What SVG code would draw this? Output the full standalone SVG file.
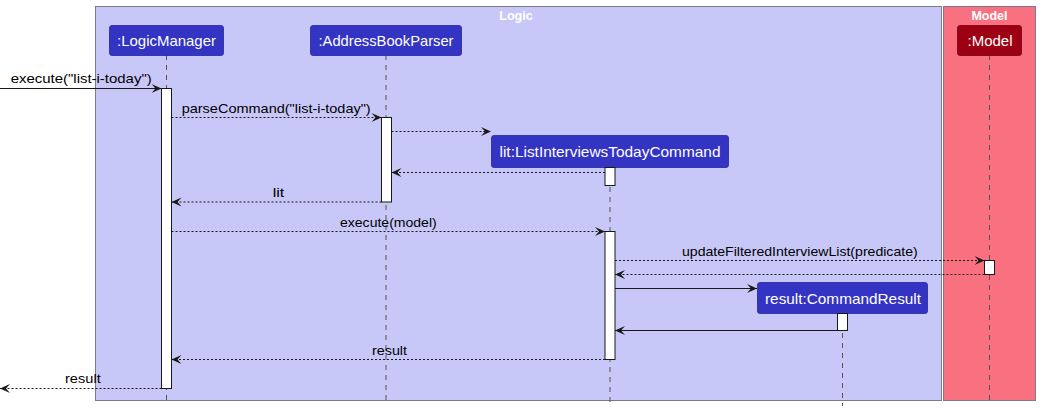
<svg xmlns="http://www.w3.org/2000/svg" width="1040" height="412" viewBox="0 0 1040 412">
<style>
.box{stroke:#7a7a8a;stroke-width:1}
.hdr{stroke:#26269a;stroke-width:0.8}
.pname{font-family:"Liberation Sans",Arial,sans-serif;font-size:15px;fill:#ffffff;text-anchor:middle}
.gname{font-family:"Liberation Sans",Arial,sans-serif;font-size:12.5px;font-weight:bold;fill:#ffffff;text-anchor:middle}
.lbl{font-family:"Liberation Sans",Arial,sans-serif;font-size:13.5px;fill:#000000}
.life{stroke:#555555;stroke-width:1;stroke-dasharray:5,5;fill:none}
.act{fill:#ffffff;stroke:#181818;stroke-width:1}
.msg{stroke:#181818;stroke-width:1;fill:none;marker-end:url(#ah)}
.dot{stroke-dasharray:2,2}
</style>
<defs>
<marker id="ah" markerUnits="userSpaceOnUse" markerWidth="12" markerHeight="10" refX="10" refY="4.5" orient="auto">
<path d="M0,0 L10,4.5 L0,9 L4,4.5 Z" fill="#181818"/>
</marker>
</defs>
<rect width="1040" height="412" fill="#ffffff"/>
<g id="group-logic">
<rect class="box" x="95.5" y="6.5" width="846" height="394" fill="#C8C8F8"/>
<text class="gname" x="516" y="20">Logic</text>
</g>
<g id="group-model">
<rect class="box" x="943.5" y="6.5" width="92" height="394" fill="#F97181"/>
<text class="gname" x="989.5" y="20">Model</text>
</g>
<g id="lifelines">
<line class="life" x1="166.5" y1="55" x2="166.5" y2="402"/>
<line class="life" x1="386" y1="55" x2="386" y2="402"/>
<line class="life" x1="610" y1="167" x2="610" y2="402"/>
<line class="life" x1="842.5" y1="313" x2="842.5" y2="406"/>
<line class="life" x1="989.5" y1="55" x2="989.5" y2="402"/>
</g>
<g id="node-logicmanager">
<rect class="hdr" x="109.5" y="25.5" width="114" height="30" rx="2.5" fill="#3333C4"/>
<text class="pname" x="166.5" y="46" textLength="99" lengthAdjust="spacingAndGlyphs">:LogicManager</text>
<rect class="act" x="161.5" y="88.5" width="10" height="300"/>
</g>
<g id="node-addressbookparser">
<rect class="hdr" x="310.5" y="25.5" width="151" height="30" rx="2.5" fill="#3333C4"/>
<text class="pname" x="386" y="46" textLength="135" lengthAdjust="spacingAndGlyphs">:AddressBookParser</text>
<rect class="act" x="381.5" y="117.5" width="10" height="84.5"/>
</g>
<g id="node-lit">
<rect class="hdr" x="491.5" y="135.5" width="237" height="32" rx="2.5" fill="#3333C4"/>
<text class="pname" x="610" y="157" textLength="221" lengthAdjust="spacingAndGlyphs">lit:ListInterviewsTodayCommand</text>
<rect class="act" x="605" y="167.5" width="10" height="18"/>
<rect class="act" x="605" y="231.5" width="10" height="128"/>
</g>
<g id="node-result">
<rect class="hdr" x="757.5" y="282.5" width="170" height="31" rx="2.5" fill="#3333C4"/>
<text class="pname" x="843" y="303.5" textLength="156" lengthAdjust="spacingAndGlyphs">result:CommandResult</text>
<rect class="act" x="837.5" y="313.5" width="10" height="17"/>
</g>
<g id="node-model">
<rect x="957.5" y="25.5" width="64" height="30" rx="2.5" fill="#9D0012" stroke="#7a0010" stroke-width="0.8"/>
<text class="pname" x="990" y="46" textLength="45" lengthAdjust="spacingAndGlyphs">:Model</text>
<rect class="act" x="984.5" y="260.5" width="10" height="14"/>
</g>
<g id="connectors">
<line class="msg" x1="0" y1="88.5" x2="161.5" y2="88.5"/>
<line class="msg dot" x1="171.5" y1="117.5" x2="381.5" y2="117.5"/>
<line class="msg dot" x1="391.5" y1="131.5" x2="491" y2="131.5"/>
<line class="msg dot" x1="605" y1="172.5" x2="391.5" y2="172.5"/>
<line class="msg dot" x1="381.5" y1="202" x2="171.5" y2="202"/>
<line class="msg dot" x1="171.5" y1="231.5" x2="605" y2="231.5"/>
<line class="msg dot" x1="615" y1="260.5" x2="984.5" y2="260.5"/>
<line class="msg dot" x1="984.5" y1="274.5" x2="615" y2="274.5"/>
<line class="msg" x1="615" y1="288.5" x2="757" y2="288.5"/>
<line class="msg" x1="837.5" y1="330.5" x2="615" y2="330.5"/>
<line class="msg dot" x1="605" y1="359.5" x2="171.5" y2="359.5"/>
<line class="msg dot" x1="161.5" y1="388.5" x2="0" y2="388.5"/>
</g>
<g id="labels">
<text class="lbl" x="10.7" y="82.5" textLength="141" lengthAdjust="spacingAndGlyphs">execute("list-i-today")</text>
<text class="lbl" x="181.7" y="112.5" textLength="189" lengthAdjust="spacingAndGlyphs">parseCommand("list-i-today")</text>
<text class="lbl" x="272.7" y="196.5" textLength="11.6" lengthAdjust="spacingAndGlyphs">lit</text>
<text class="lbl" x="340" y="226.5" textLength="96.7" lengthAdjust="spacingAndGlyphs">execute(model)</text>
<text class="lbl" x="682" y="255.5" textLength="235.7" lengthAdjust="spacingAndGlyphs">updateFilteredInterviewList(predicate)</text>
<text class="lbl" x="372" y="354.5" textLength="35" lengthAdjust="spacingAndGlyphs">result</text>
<text class="lbl" x="65" y="383" textLength="35.7" lengthAdjust="spacingAndGlyphs">result</text>
</g>
</svg>
